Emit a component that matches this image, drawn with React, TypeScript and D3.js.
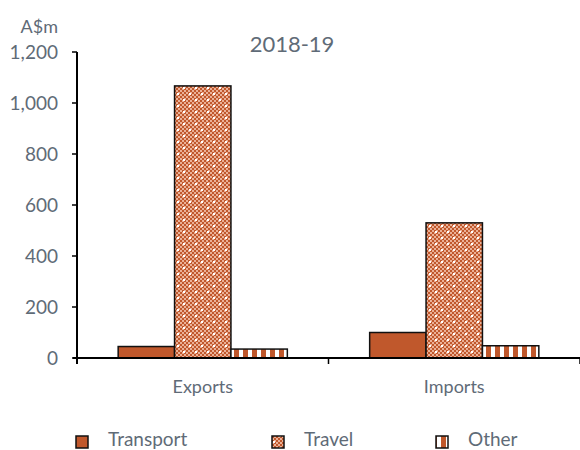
import React from "react";
import * as d3 from "d3";

const categories = ["Exports", "Imports"];
const seriesNames = ["Transport", "Travel", "Other"];
const transport = [45, 100];
const travel = [1067, 530];
const other = [35, 48];
const yTicks = [0, 200, 400, 600, 800, 1000, 1200];

const W = 580, H = 450;
const left = 77, right = 580, top = 52, bottom = 358;
const ORANGE = "#C0582C";
const TEXT = "#5F6B77";
const FONT = "Lato, 'Open Sans', sans-serif";

export default function App() {
  const x0 = d3.scaleBand<string>().domain(categories).range([left, right]).paddingInner(0).paddingOuter(0);
  const x1 = d3.scaleBand<string>().domain(seriesNames).range([0, x0.bandwidth()]).paddingInner(0).paddingOuter(0.73);
  const y = d3.scaleLinear().domain([0, 1200]).range([bottom, top]);
  const values = [transport, travel, other];
  const fills = ["url(#solid)", "url(#travel)", "url(#other)"];
  const fmt = d3.format(",");
  const legendX = [76, 272, 436];
  return (
    <svg width={W} height={H} style={{ position: "absolute", left: 0, top: 0 }}>
      <defs>
        <pattern id="solid" width="4" height="4" patternUnits="userSpaceOnUse">
          <rect width="4" height="4" fill={ORANGE} />
        </pattern>
        <pattern id="travel" width="12" height="12" patternUnits="userSpaceOnUse">
          <rect width="12" height="12" fill="#EBB197" />
          {d3.range(6).flatMap((i) =>
            d3.range(6).map((j) =>
              (i + j) % 2 === 0 ? <rect key={`${i}-${j}`} x={i * 2} y={j * 2} width="2" height="2" fill={ORANGE} /> : null
            )
          )}
          <rect x="3" y="3" width="2" height="2" fill="#fff" />
          <rect x="9" y="9" width="2" height="2" fill="#fff" />
        </pattern>
        <pattern id="other" width="9" height="9" patternUnits="userSpaceOnUse">
          <rect width="9" height="9" fill="#fff" />
          <rect x="0" width="5" height="9" fill={ORANGE} />
        </pattern>
      </defs>
      <text x={292} y={52} textAnchor="middle" fontFamily={FONT} fontSize={22} fill={TEXT}>2018-19</text>
      <text x={58} y={33} textAnchor="end" fontFamily={FONT} fontSize={18} fill={TEXT}>A$m</text>
      {yTicks.map((t) => (
        <g key={t}>
          <line x1={72} x2={left} y1={y(t)} y2={y(t)} stroke="#000" strokeWidth={1.5} />
          <text x={58} y={y(t) + 7} textAnchor="end" fontFamily={FONT} fontSize={19} fill={TEXT}>{fmt(t)}</text>
        </g>
      ))}
      {categories.map((c, ci) =>
        seriesNames.map((s, si) => (
          <rect key={c + s} x={(x0(c) as number) + (x1(s) as number)} y={y(values[si][ci])}
            width={x1.bandwidth()} height={bottom - y(values[si][ci])}
            fill={fills[si]} stroke="#111" strokeWidth={1.5} />
        ))
      )}
      <line x1={left} x2={left} y1={top} y2={bottom + 6} stroke="#000" strokeWidth={2} />
      <line x1={left - 4} x2={right} y1={bottom} y2={bottom} stroke="#000" strokeWidth={2} />
      {[left, left + x0.bandwidth(), right].map((tx, i) => (
        <line key={i} x1={tx} x2={tx} y1={bottom} y2={bottom + 6} stroke="#000" strokeWidth={1.5} />
      ))}
      {categories.map((c) => (
        <text key={c} x={(x0(c) as number) + x0.bandwidth() / 2} y={393} textAnchor="middle" fontFamily={FONT} fontSize={18} fill={TEXT}>{c}</text>
      ))}
      {seriesNames.map((s, i) => (
        <g key={s}>
          <rect x={legendX[i]} y={436} width={12} height={12} fill={fills[i]} stroke="#111" strokeWidth={1.5} />
          <text x={legendX[i] + 32} y={446} fontFamily={FONT} fontSize={19} fill={TEXT}>{s}</text>
        </g>
      ))}
    </svg>
  );
}
